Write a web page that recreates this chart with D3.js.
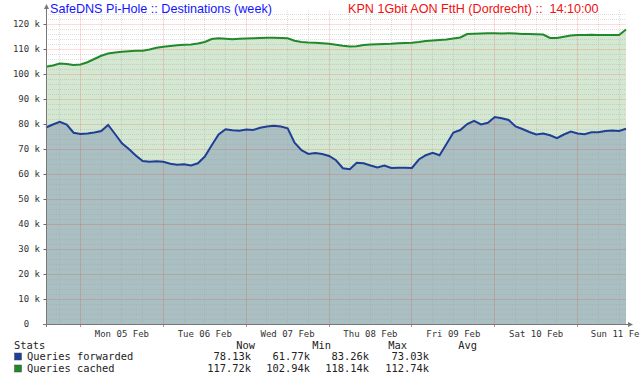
<!DOCTYPE html>
<html><head><meta charset="utf-8">
<script src="https://cdn.jsdelivr.net/npm/d3@7"></script>
<style>
body{margin:0;background:#fff;}
svg{display:block;}
.mono{font-family:"DejaVu Sans Mono",monospace;}
</style></head>
<body><svg id="c" width="640" height="380"></svg>
<script>
// ---- data (2-hour samples, starting Sun 04 Feb 14:10) ----
const startTime = new Date(2024, 1, 4, 14, 10, 0);
const endTime = new Date(2024, 1, 11, 14, 10, 0);
const stepHours = 2;
const forwarded = [78.6,79.8,80.9,79.8,76.5,76.0,76.2,76.6,77.2,79.6,76.0,72.3,70.0,67.4,65.2,64.9,65.1,64.9,64.1,63.7,63.9,63.4,64.3,67.0,71.5,75.8,77.9,77.5,77.3,77.8,77.6,78.5,79.0,79.3,79.0,78.3,72.5,69.5,68.0,68.4,68.0,67.2,65.5,62.3,61.9,64.5,64.3,63.4,62.6,63.4,62.4,62.5,62.5,62.4,65.8,67.5,68.5,67.5,72.0,76.6,77.6,80.0,81.3,79.8,80.5,82.8,82.3,81.6,79.0,78.0,76.8,75.8,76.2,75.5,74.3,75.8,77.0,76.2,75.9,76.7,76.7,77.2,77.4,77.2,78.1];
const cached = [102.9,103.4,104.2,104.0,103.6,103.8,104.7,106.0,107.3,108.2,108.6,108.9,109.1,109.3,109.3,109.8,110.5,110.9,111.2,111.5,111.7,111.8,112.2,112.8,114.0,114.3,114.1,113.9,114.1,114.2,114.3,114.4,114.5,114.5,114.4,114.3,113.3,112.8,112.6,112.5,112.3,112.1,111.7,111.3,111.0,111.1,111.6,111.8,111.9,112.0,112.1,112.3,112.4,112.5,112.8,113.2,113.4,113.6,113.8,114.2,114.6,116.0,116.1,116.2,116.3,116.3,116.2,116.3,116.2,116.0,116.0,115.9,115.8,114.4,114.4,114.9,115.4,115.6,115.6,115.7,115.6,115.6,115.6,115.6,117.8];
const yTicks = [0,10,20,30,40,50,60,70,80,90,100,110,120];
const dayLabels = ["Mon 05 Feb","Tue 06 Feb","Wed 07 Feb","Thu 08 Feb","Fri 09 Feb","Sat 10 Feb","Sun 11 Fe"];
const statHeaders = ["Now","Min","Max","Avg"];
const statSeries = ["Queries forwarded","Queries cached"];
const statValues = [["78.13k","61.77k","83.26k","73.03k"],["117.72k","102.94k","118.14k","112.74k"]];
const titleLeft = "SafeDNS Pi-Hole :: Destinations (week)";
const titleRight = "KPN 1Gbit AON FttH (Dordrecht) ::  14:10:00";

// ---- layout ----
const L = 46, R = 626, T = 10, B = 324;
const svg = d3.select("#c");
const x = d3.scaleTime().domain([startTime, endTime]).range([L, R]);
const y = d3.scaleLinear().domain([0, 120]).range([B, 24]);
const tOf = i => new Date(startTime.getTime() + i * stepHours * 3600e3);

// areas
const areaG = d3.area().x((d,i)=>x(tOf(i))).y0(B).y1(d=>y(d));
const lineG = d3.line().x((d,i)=>x(tOf(i))).y(d=>y(d));
svg.append("path").attr("d", areaG(cached)).attr("fill", "#d3e7d1");
svg.append("path").attr("d", areaG(forwarded)).attr("fill", "#a9bfc2");

// grid
const grid = svg.append("g");
const minorY = d3.range(0, 126, 2).filter(v => v % 10 !== 0);
grid.selectAll(".hy").data(minorY).join("line")
  .attr("x1", L).attr("x2", R).attr("y1", d=>Math.round(y(d))+0.5).attr("y2", d=>Math.round(y(d))+0.5)
  .attr("stroke", "#a0a0a0").attr("stroke-opacity", 0.35).attr("stroke-dasharray", "1,1");
const minorX = d3.timeHour.every(6).range(startTime, endTime).filter(d => d.getHours() !== 0);
grid.selectAll(".vx").data(minorX).join("line")
  .attr("x1", d=>Math.round(x(d))+0.5).attr("x2", d=>Math.round(x(d))+0.5).attr("y1", T).attr("y2", B)
  .attr("stroke", "#a0a0a0").attr("stroke-opacity", 0.35).attr("stroke-dasharray", "1,1");
grid.selectAll(".my").data(yTicks.slice(1)).join("line")
  .attr("x1", L).attr("x2", R).attr("y1", d=>Math.round(y(d))+0.5).attr("y2", d=>Math.round(y(d))+0.5)
  .attr("stroke", "#ff0000").attr("stroke-opacity", 0.14);
const majorX = d3.timeDay.range(startTime, endTime);
grid.selectAll(".mx").data(majorX).join("line")
  .attr("x1", d=>Math.round(x(d))+0.5).attr("x2", d=>Math.round(x(d))+0.5).attr("y1", T).attr("y2", B)
  .attr("stroke", "#ff0000").attr("stroke-opacity", 0.14);

// lines
svg.append("path").attr("d", lineG(cached)).attr("fill","none").attr("stroke","#208a2a").attr("stroke-width",2);
svg.append("path").attr("d", lineG(forwarded)).attr("fill","none").attr("stroke","#1f3f96").attr("stroke-width",2);

// axes
const yAxis = d3.axisLeft(y).tickValues(yTicks).tickSize(3).tickPadding(4)
  .tickFormat(d => d === 0 ? "0\u00a0\u00a0" : d + "\u00a0k");
const gy = svg.append("g").attr("transform", `translate(${L+0.5},0)`).call(yAxis);
gy.select(".domain").remove();
gy.selectAll("line").attr("stroke", "#666");
gy.selectAll("text").attr("class","mono").attr("font-size", 9).attr("fill", "#333").attr("x", -6.5);

const noons = majorX.map(d => d3.timeHour.offset(d, 12));
const xAxis = d3.axisBottom(x).tickValues(noons).tickSize(0).tickPadding(7)
  .tickFormat((d,i) => dayLabels[i]);
const gx = svg.append("g").attr("transform", `translate(0,${B})`).call(xAxis);
gx.select(".domain").remove();
gx.selectAll("text").attr("class","mono").attr("font-size", 9).attr("fill", "#333");
gx.selectAll(".tick").filter((d,i)=>i===dayLabels.length-1).select("text")
  .attr("text-anchor","end").attr("x", 639 - x(noons[noons.length-1]));
svg.selectAll(".xt").data(majorX).join("line")
  .attr("x1", d=>Math.round(x(d))+0.5).attr("x2", d=>Math.round(x(d))+0.5).attr("y1", B).attr("y2", B+3)
  .attr("stroke", "#e08080");

// axis lines + arrows
svg.append("line").attr("x1", L-3).attr("x2", R+5).attr("y1", B+0.5).attr("y2", B+0.5).attr("stroke","#777");
svg.append("path").attr("d", `M${R+7},${B+0.5} l-5,-2.5 v5 z`).attr("fill","#777");
svg.append("line").attr("x1", L+0.5).attr("x2", L+0.5).attr("y1", B+3).attr("y2", 8).attr("stroke","#777");
svg.append("path").attr("d", `M${L+0.5},4 l-2.5,5 h5 z`).attr("fill","#777");

// titles
svg.append("text").attr("x", 50).attr("y", 13).attr("font-family","Liberation Sans, Arial, sans-serif")
  .attr("font-size", 12.6).attr("fill", "#1414ff").text(titleLeft);
svg.append("text").attr("x", 348).attr("y", 13).attr("font-family","Liberation Sans, Arial, sans-serif")
  .attr("font-size", 12.6).attr("fill", "#f01010").style("white-space","pre").text(titleRight);

// legend / stats
const lg = svg.append("g").attr("class","mono").attr("font-size", 10.4).attr("fill", "#222");
lg.append("text").attr("x", 14).attr("y", 349).text("Stats");
const headerX = [255, 331, 407, 477];
lg.selectAll(".hd").data(statHeaders).join("text")
  .attr("x", (d,i)=>headerX[i]).attr("y", 349).attr("text-anchor","end").text(d=>d);
const rowY = [360, 372];
const colors = ["#1f3f9c", "#1f8a2a"];
statSeries.forEach((s, r) => {
  lg.append("rect").attr("x", 14.5).attr("y", rowY[r]-7).attr("width", 7).attr("height", 7)
    .attr("fill", colors[r]).attr("stroke", "#444").attr("stroke-width", 0.5);
  lg.append("text").attr("x", 27).attr("y", rowY[r]).style("white-space","pre").text(s);
  const valX = [251, 310, 369, 429];
  statValues[r].forEach((v, c) => {
    lg.append("text").attr("x", valX[c]).attr("y", rowY[r]).attr("text-anchor","end").text(v);
  });
});
</script></body></html>
